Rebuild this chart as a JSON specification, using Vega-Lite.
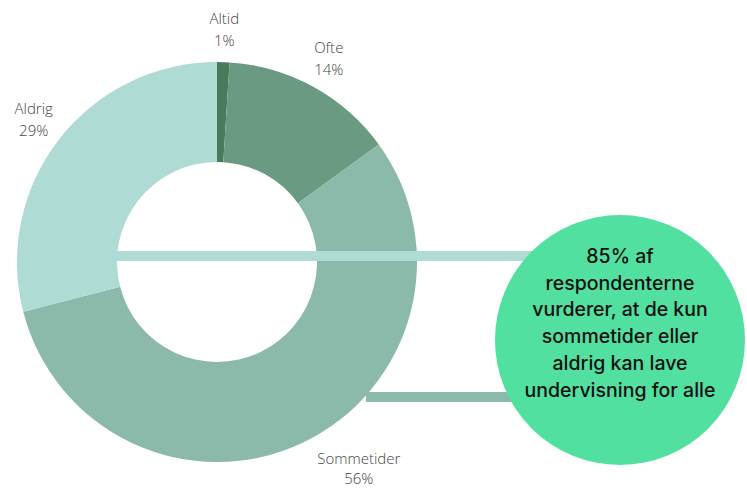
{
  "$schema": "https://vega.github.io/schema/vega-lite/v6.json",
  "width": 747,
  "height": 488,
  "autosize": "none",
  "padding": 0,
  "background": "white",
  "config": {"view": {"stroke": null}},
  "datasets": {
    "svar": [
      {"svar": "Altid", "pct": 1, "order": 1},
      {"svar": "Ofte", "pct": 14, "order": 2},
      {"svar": "Sommetider", "pct": 56, "order": 3},
      {"svar": "Aldrig", "pct": 29, "order": 4}
    ],
    "note": [
      {"tekst": "85% af\nrespondenterne\nvurderer, at de kun\nsommetider eller\naldrig kan lave\nundervisning for alle"}
    ]
  },
  "layer": [
    {
      "data": {"name": "svar"},
      "mark": {"type": "arc", "innerRadius": 100, "outerRadius": 200},
      "encoding": {
        "theta": {"field": "pct", "type": "quantitative", "stack": true},
        "order": {"field": "order", "type": "quantitative"},
        "color": {
          "field": "svar",
          "type": "nominal",
          "scale": {
            "domain": ["Altid", "Ofte", "Sommetider", "Aldrig"],
            "range": ["#4a7a5c", "#6a9a82", "#8bb9aa", "#aedbd4"]
          },
          "legend": null
        },
        "x": {"datum": 217, "type": "quantitative", "scale": {"domain": [0, 747], "nice": false, "zero": false}, "axis": null},
        "y": {"datum": 262, "type": "quantitative", "scale": {"domain": [488, 0], "nice": false, "zero": false}, "axis": null}
      }
    },
    {
      "data": {"name": "svar"},
      "transform": [
        {"calculate": "datum.svar + '\\n' + datum.pct + '%'", "as": "etiket"}
      ],
      "mark": {"type": "text", "font": "Open Sans", "fontWeight": 300, "fontSize": 15, "lineHeight": 22, "lineBreak": "\n", "color": "#444444", "align": "center", "baseline": "middle", "dy": -11},
      "encoding": {
        "theta": {"field": "pct", "type": "quantitative", "stack": true},
        "order": {"field": "order", "type": "quantitative"},
        "radius": {"value": 232},
        "text": {"field": "etiket", "type": "nominal"},
        "opacity": {"condition": {"test": "datum.svar === 'Sommetider'", "value": 0}, "value": 1},
        "x": {"datum": 217, "type": "quantitative"},
        "y": {"datum": 262, "type": "quantitative"}
      }
    },
    {
      "data": {"name": "svar"},
      "transform": [
        {"calculate": "datum.svar + '\\n' + datum.pct + '%'", "as": "etiket"}
      ],
      "mark": {"type": "text", "font": "Open Sans", "fontWeight": 300, "fontSize": 15, "lineHeight": 20, "lineBreak": "\n", "color": "#444444", "align": "center", "baseline": "middle", "dx": 43, "dy": -13},
      "encoding": {
        "theta": {"field": "pct", "type": "quantitative", "stack": true},
        "order": {"field": "order", "type": "quantitative"},
        "radius": {"value": 232},
        "text": {"field": "etiket", "type": "nominal"},
        "opacity": {"condition": {"test": "datum.svar === 'Sommetider'", "value": 1}, "value": 0},
        "x": {"datum": 217, "type": "quantitative"},
        "y": {"datum": 262, "type": "quantitative"}
      }
    },
    {
      "data": {"name": "note"},
      "mark": {"type": "rule", "strokeWidth": 10, "color": "#aedcd4", "strokeCap": "butt"},
      "encoding": {
        "x": {"datum": 117, "type": "quantitative"},
        "x2": {"datum": 560},
        "y": {"datum": 256, "type": "quantitative"}
      }
    },
    {
      "data": {"name": "note"},
      "mark": {"type": "rule", "strokeWidth": 10, "color": "#8bb9aa", "strokeCap": "butt"},
      "encoding": {
        "x": {"datum": 366, "type": "quantitative"},
        "x2": {"datum": 560},
        "y": {"datum": 397, "type": "quantitative"}
      }
    },
    {
      "data": {"name": "note"},
      "mark": {"type": "point", "shape": "circle", "filled": true, "size": 62500, "color": "#52e0a0", "opacity": 1},
      "encoding": {
        "x": {"datum": 620, "type": "quantitative"},
        "y": {"datum": 340, "type": "quantitative"}
      }
    },
    {
      "data": {"name": "note"},
      "mark": {"type": "text", "font": "Inter", "fontWeight": 500, "fontSize": 19.5, "lineHeight": 26.7, "lineBreak": "\n", "color": "#111111", "align": "center", "baseline": "middle"},
      "encoding": {
        "text": {"field": "tekst", "type": "nominal"},
        "x": {"datum": 620, "type": "quantitative"},
        "y": {"datum": 257, "type": "quantitative"}
      }
    }
  ]
}
